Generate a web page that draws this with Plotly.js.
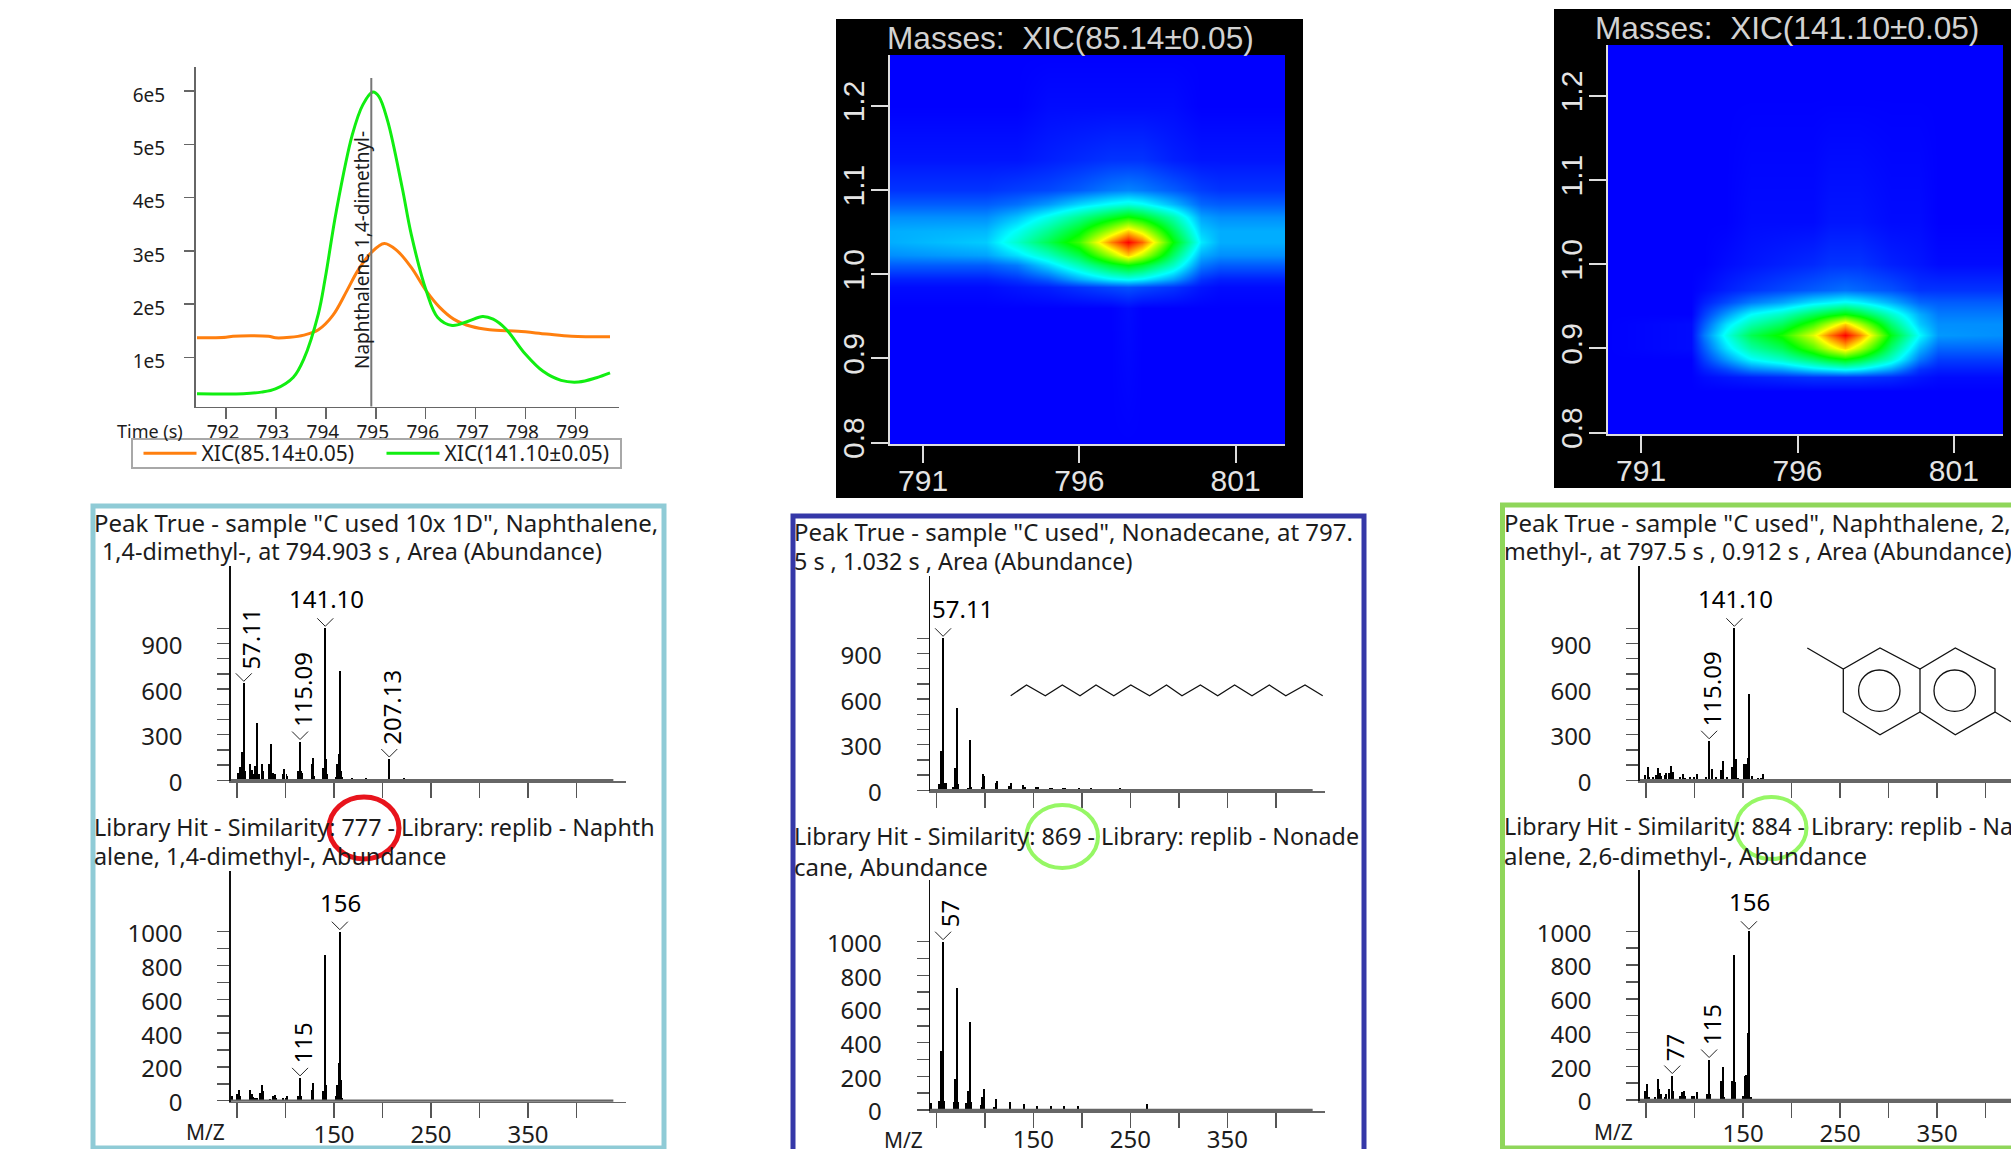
<!DOCTYPE html>
<html>
<head>
<meta charset="utf-8">
<script src="https://cdn.plot.ly/plotly-3.0.1.min.js"></script>
<style>html,body{margin:0;padding:0;background:#fff}#chart{width:2011px;height:1149px}</style>
</head>
<body>
<div id="chart"></div>
<script>
// ---------- Chromatogram data ----------
const orangeTime = [791.42,792.0,792.14,792.85,792.99,793.28,793.56,793.85,794.14,794.42,794.64,794.91,795.17,795.42,795.71,796.01,796.28,796.56,796.92,797.28,797.85,798.42,798.92,799.69];
const orangeAbund = [1.37e5,1.38e5,1.40e5,1.40e5,1.37e5,1.38e5,1.42e5,1.52e5,1.79e5,2.25e5,2.63e5,2.97e5,3.14e5,3.01e5,2.69e5,2.25e5,1.94e5,1.72e5,1.58e5,1.52e5,1.49e5,1.44e5,1.40e5,1.39e5];
const greenTime = [791.42,792.35,792.71,792.99,793.35,793.56,793.85,793.99,794.21,794.53,794.74,794.94,795.06,795.24,795.53,795.71,796.01,796.24,796.53,796.85,797.14,797.35,797.60,797.99,798.35,798.71,799.06,799.42,799.69];
const greenAbund = [0.32e5,0.32e5,0.35e5,0.41e5,0.63e5,0.975e5,1.82e5,2.50e5,3.75e5,5.18e5,5.74e5,5.98e5,5.90e5,5.43e5,4.18e5,3.31e5,2.25e5,1.75e5,1.60e5,1.68e5,1.77e5,1.72e5,1.54e5,1.07e5,0.74e5,0.57e5,0.54e5,0.62e5,0.71e5];
const peakTime = 794.91;
const chromTicksX = [792,793,794,795,796,797,798,799];
const chromTicksY = [1e5,2e5,3e5,4e5,5e5,6e5];
const chromTickText = ['1e5','2e5','3e5','4e5','5e5','6e5'];

// ---------- Heat map data (read by eye as a coarse grid) ----------
const heat85X = [789.9,793,794,795,796,797,797.54,798,799,799.9,800.5,802.6];
const heat85Y = [0.798,0.96,0.985,0.995,1.011,1.023,1.0385,1.052,1.068,1.084,1.10,1.136,1.2,1.261];
const heat85Z = [
 [0,0,0,0,0,0,0,0,0,0,0,0],
 [0,0,0,0,0,0,.01,0,0,0,0,0],
 [.01,.01,.02,.03,.05,.07,.08,.07,.05,.02,.01,.01],
 [.03,.03,.05,.09,.17,.24,.26,.24,.16,.05,.03,.03],
 [.09,.09,.12,.21,.32,.45,.5,.46,.31,.12,.09,.09],
 [.14,.16,.22,.31,.43,.66,.8,.69,.4,.17,.14,.14],
 [.17,.2,.3,.42,.56,.87,1,.9,.5,.23,.17,.17],
 [.17,.18,.26,.36,.48,.68,.8,.71,.43,.2,.17,.17],
 [.14,.14,.19,.27,.36,.46,.51,.47,.33,.16,.14,.14],
 [.09,.09,.11,.15,.21,.26,.28,.26,.18,.1,.09,.09],
 [.05,.05,.06,.07,.09,.12,.13,.12,.09,.06,.05,.05],
 [.02,.02,.02,.03,.04,.05,.05,.05,.03,.02,.02,.02],
 [0,0,0,.01,.01,.01,.01,.01,.01,0,0,0],
 [0,0,0,0,0,0,0,0,0,0,0,0]];
const heat141X = [789.9,792.6,793,793.7,794.5,795.5,796.5,797,797.52,798,799,799.9,800.5,802.6];
const heat141Y = [0.798,0.85,0.866,0.876,0.888,0.9,0.9155,0.929,0.941,0.955,0.97,1.0,1.05,1.2,1.261];
const heat141Z = [
 [0,0,0,0,0,0,0,0,0,0,0,0,0,0],
 [0,0,0,0,0,0,0,0,0,0,0,0,0,0],
 [0,0,.01,.02,.03,.04,.05,.05,.05,.05,.04,.02,.01,.01],
 [0,0,.03,.07,.13,.16,.22,.24,.26,.24,.16,.05,.03,.03],
 [0,0,.06,.15,.25,.31,.4,.46,.5,.45,.3,.12,.06,.06],
 [0,.01,.09,.22,.34,.42,.58,.7,.8,.68,.39,.18,.1,.1],
 [0,.01,.12,.27,.42,.52,.72,.88,1,.87,.48,.25,.15,.14],
 [0,.01,.09,.22,.33,.41,.56,.68,.8,.67,.39,.2,.14,.14],
 [0,0,.06,.15,.25,.31,.41,.46,.5,.45,.3,.17,.12,.12],
 [0,0,.03,.07,.12,.16,.22,.24,.26,.24,.17,.1,.09,.09],
 [0,0,.01,.03,.05,.07,.09,.1,.11,.1,.08,.05,.05,.05],
 [0,0,0,.01,.02,.03,.04,.05,.05,.05,.03,.02,.01,.01],
 [0,0,0,0,.01,.01,.01,.02,.02,.02,.01,.01,0,0],
 [0,0,0,0,0,0,0,0,0,0,0,0,0,0],
 [0,0,0,0,0,0,0,0,0,0,0,0,0,0]];
const heatTicksX = [791,796,801];
const heatTicksY = [0.8,0.9,1.0,1.1,1.2];
const heatTickTextY = ['0.8','0.9','1.0','1.1','1.2'];

// ---------- Mass spectra data ----------
const aTopMz = [51,53,55,57,58,63,65,67,69,71,73,76,77,83,85,87,89,97,98,101,102,113,115,116,117,127,128,129,139,141,142,143,152,153,154,155,156,157,158,169,183,207,222];
const aTopInt = [50,90,185,638,60,110,70,40,95,375,40,110,60,110,237,50,40,40,72,40,30,60,255,60,50,105,150,30,80,1000,138,40,20,105,105,175,720,60,20,15,12,140,15];
const aLibMz = [45,50,52,53,63,65,67,69,71,74,76,77,84,87,89,90,97,100,102,113,115,116,127,128,139,141,142,152,153,154,155,156,157,158];
const aLibInt = [25,40,65,25,65,40,20,15,15,45,95,55,10,25,35,15,15,15,25,25,135,25,65,105,55,865,95,25,95,95,225,1000,125,15];
const bTopMz = [53,55,57,58,60,67,69,71,72,83,85,86,97,98,99,111,113,125,127,139,141,153,155,167,169,181,183,197,209,239];
const bTopInt = [40,260,1000,45,45,20,150,540,40,15,330,25,25,105,95,50,60,30,45,35,20,20,25,15,15,15,15,12,15,12];
const bLibMz = [45,53,55,57,58,68,69,71,72,81,83,85,86,96,97,99,109,111,112,126,140,154,168,182,196,267];
const bLibInt = [40,55,350,1000,55,45,185,725,45,40,115,525,45,30,75,125,20,50,65,50,35,25,25,25,25,35];
const cTopMz = [49,52,53,57,60,62,64,65,69,71,74,76,78,85,88,90,95,99,102,112,115,118,122,127,129,133,139,141,143,145,151,153,155,156,159,165,168,171];
const cTopInt = [35,90,20,25,35,80,50,30,35,50,50,95,55,20,40,15,20,20,40,25,260,75,20,70,130,20,85,1000,140,15,105,105,150,565,30,15,15,40];
const cLibMz = [49,51,53,59,62,63,65,69,71,74,77,78,85,87,89,90,97,99,102,113,115,116,127,129,130,139,141,142,150,152,153,155,156,158];
const cLibInt = [55,95,20,20,125,65,35,20,35,65,145,55,25,50,55,25,25,25,50,35,240,35,115,195,15,115,860,105,25,145,150,395,1000,20];
const spectrumTicksX = [50,100,150,200,250,300,350,400];
const spectrumLabelsX = ['','','150','','250','','350',''];
const topTicksY = [0,100,200,300,400,500,600,700,800,900,1000];
const topTickText = ['0','','','300','','','600','','','900',''];
const libTicksY = [0,100,200,300,400,500,600,700,800,900,1000];
const libTickText = ['0','','200','','400','','600','','800','','1000'];

// ---------- Texts ----------
const aTitle = ['Peak True - sample "C used 10x 1D", Naphthalene,','1,4-dimethyl-, at 794.903 s , Area (Abundance)'];
const aLib = ['Library Hit - Similarity: 777 - Library: replib - Naphth','alene, 1,4-dimethyl-, Abundance'];
const bTitle = ['Peak True - sample "C used", Nonadecane, at 797.','5 s , 1.032 s , Area (Abundance)'];
const bLib = ['Library Hit - Similarity: 869 - Library: replib - Nonade','cane, Abundance'];
const cTitle = ['Peak True - sample "C used", Naphthalene, 2,','methyl-, at 797.5 s , 0.912 s , Area (Abundance)'];
const cLib = ['Library Hit - Similarity: 884 - Library: replib - Na','alene, 2,6-dimethyl-, Abundance'];

// ---------- Layout helpers ----------
const W = 2011, H = 1149;
const X = p => p / W, Y = p => 1 - p / H;
const FONT = 'Noto Sans', ARIAL = 'Liberation Sans';
const INK = '#1c1c1c';
const traces = [], shapes = [], annotations = [];
const layout = {
  width: W, height: H, margin: {l:0,r:0,t:0,b:0},
  paper_bgcolor: '#fff', plot_bgcolor: 'rgba(0,0,0,0)',
  showlegend: true, bargap: 0, barmode: 'overlay',
  font: {family: FONT, color: INK},
  legend: {orientation:'h', x:X(138.5), y:Y(453.5), xanchor:'left', yanchor:'middle',
    borderwidth:0, bgcolor:'rgba(0,0,0,0)', itemwidth:53, font:{size:21,family:FONT,color:INK},
    entrywidth:175, entrywidthmode:'pixels', traceorder:'normal'}
};
function ax(n){ return n === 1 ? '' : String(n); }
function text(s, xp, yp, size, extra){
  annotations.push(Object.assign({text:s, xref:'paper', yref:'paper', x:X(xp), y:Y(yp), xanchor:'left', yanchor:'middle',
    showarrow:false, font:{size:size, family:FONT, color:INK}, borderpad:0}, extra||{}));
}
function pxLine(pts, color, width){
  const d = pts.map((p,i)=>(i?'L':'M')+X(p[0])+','+Y(p[1])).join(' ');
  shapes.push({type:'path', xref:'paper', yref:'paper', path:d, line:{color:color,width:width}, layer:'above'});
}
function pxBox(x0,y0,x1,y1,line,fill,lay){
  shapes.push({type:'rect', xref:'paper', yref:'paper', x0:X(x0), x1:X(x1), y0:Y(y1), y1:Y(y0),
    line:line, fillcolor:fill||'rgba(0,0,0,0)', layer:lay||'above'});
}
function pxEllipse(x0,y0,x1,y1,color,width){
  shapes.push({type:'circle', xref:'paper', yref:'paper', x0:X(x0), x1:X(x1), y0:Y(y1), y1:Y(y0),
    line:{color:color,width:width}, layer:'above'});
}

// ---------- Chromatogram (axes 1) ----------
layout.xaxis = {domain:[X(196),X(619)], range:[791.4,799.87], anchor:'y', tickmode:'array', tickvals:chromTicksX,
  ticks:'outside', ticklen:11, tickcolor:'#666', tickwidth:1.5, showline:true, linecolor:'#666', linewidth:1.5, showgrid:false, zeroline:false,
  tickfont:{size:19,color:INK,family:FONT}, ticklabelstandoff:-3, ticklabelshift:-3};
layout.yaxis = {domain:[Y(406.5),Y(66.5)], range:[8000,6.46e5], anchor:'x', tickmode:'array', tickvals:chromTicksY, ticktext:chromTickText,
  ticks:'outside', ticklen:10, tickcolor:'#666', tickwidth:1.5, showline:true, linecolor:'#666', linewidth:2, showgrid:false, zeroline:false,
  tickfont:{size:19,color:INK,family:FONT}, ticklabelstandoff:15, ticklabelshift:4};
traces.push({type:'scatter',mode:'lines',x:orangeTime,y:orangeAbund,name:'XIC(85.14±0.05)',xaxis:'x',yaxis:'y',line:{color:'#ff7f0e',width:3,shape:'spline'},hoverinfo:'skip'});
traces.push({type:'scatter',mode:'lines',x:greenTime,y:greenAbund,name:'XIC(141.10±0.05)',xaxis:'x',yaxis:'y',line:{color:'#11ee11',width:3,shape:'spline'},hoverinfo:'skip'});
shapes.push({type:'line',xref:'x',yref:'paper',x0:peakTime,x1:peakTime,y0:Y(406.5),y1:Y(78),line:{color:'#777',width:2},layer:'above'});
annotations.push({text:'Naphthalene 1,4-dimethyl-',xref:'paper',yref:'paper',x:X(362),y:Y(250),xanchor:'center',yanchor:'middle',textangle:-90,showarrow:false,font:{size:19,family:FONT,color:INK}});
text('Time (s)', 116, 431, 18);
pxBox(132,439,621,468,{color:'#a8a8a8',width:2});

// ---------- Heat maps (axes 2, 3) ----------
const RAINBOW = [[0,'#0000ff'],[0.25,'#00ffff'],[0.5,'#00ff00'],[0.75,'#ffff00'],[1,'#ff0000']];
function heat(n, hx, hy, hz, g, title){
  const s = ax(n);
  pxBox(g.bx0,g.by0,g.bx1,g.by1,{width:0},'#000','below');
  layout['xaxis'+s] = {domain:[X(g.x0),X(g.x1)], range:[789.94,802.58], anchor:'y'+s, tickmode:'array', tickvals:heatTicksX,
    ticks:'outside', ticklen:17, tickcolor:'#ddd', tickwidth:2, showline:true, linecolor:'#ddd', linewidth:2, showgrid:false, zeroline:false,
    tickfont:{size:30,color:'#e4e4e4',family:ARIAL}, ticklabelstandoff:-8};
  layout['yaxis'+s] = {domain:[Y(g.y1),Y(g.y0)], range:[0.798,1.2606], anchor:'x'+s, tickmode:'array', tickvals:heatTicksY, ticktext:heatTickTextY,
    ticks:'outside', ticklen:17, tickcolor:'#ddd', tickwidth:2, showline:true, linecolor:'#ddd', linewidth:2, showgrid:false, zeroline:false,
    tickangle:-90, tickfont:{size:30,color:'#e4e4e4',family:ARIAL}, ticklabelstandoff:-5};
  traces.push({type:'heatmap',x:hx,y:hy,z:hz,xaxis:'x'+s,yaxis:'y'+s,colorscale:RAINBOW,zmin:0,zmax:1,zsmooth:'best',showscale:false,showlegend:false,hoverinfo:'skip'});
  text(title, g.tx, g.ty, 31.6, {font:{size:31.6,family:ARIAL,color:'#d2d2d2'}});
}
heat(2, heat85X, heat85Y, heat85Z, {bx0:836,by0:19,bx1:1303,by1:498,x0:890,x1:1285,y0:55,y1:444.3,tx:886,ty:38}, 'Masses:  XIC(85.14±0.05)');
heat(3, heat141X, heat141Y, heat141Z, {bx0:1554,by0:9,bx1:2011,by1:488,x0:1608,x1:2003.3,y0:45,y1:434.3,tx:1594,ty:28}, 'Masses:  XIC(141.10±0.05)');

// ---------- Spectra (axes 4..9) ----------
const PXMZ = 0.97;
function spectrum(n, mz, intensity, g, ticksY, tickText, labels, showLabels, labelOffset){
  const s = ax(n);
  const scale = (g.zero - g.k)/1000;
  const left = 43.4, right = Math.min(left + (W - g.x0)/PXMZ, 450.8);
  const x1 = g.x0 + (right-left)*PXMZ;
  layout['xaxis'+s] = {domain:[X(g.x0),X(x1)], range:[left,right], anchor:'y'+s, tickmode:'array', tickvals:spectrumTicksX,
    ticktext: showLabels ? spectrumLabelsX : spectrumTicksX.map(()=>''),
    ticks:'outside', ticklen:15, tickcolor:'#555', tickwidth:1.5, showline:true, linecolor:'#666', linewidth:1.5, showgrid:false, zeroline:false,
    tickfont:{size:24,color:INK,family:FONT}, ticklabelstandoff:labelOffset||-4};
  layout['yaxis'+s] = {domain:[Y(g.bottom),Y(g.top)], range:[(g.zero-g.bottom)/scale,(g.zero-g.top)/scale], anchor:'x'+s, tickmode:'array', tickvals:ticksY, ticktext:tickText,
    ticks:'outside', ticklen:12, tickcolor:'#555', tickwidth:1.5, showline:true, linecolor:'#111', linewidth:1.3, showgrid:false, zeroline:false,
    tickfont:{size:24,color:INK,family:FONT}, ticklabelstandoff:30, ticklabelshift:2};
  traces.push({type:'bar',x:mz,y:intensity,width:2,marker:{color:'#000',line:{width:0}},xaxis:'x'+s,yaxis:'y'+s,showlegend:false,hoverinfo:'skip'});
  shapes.push({type:'line',xref:'x'+s,yref:'y'+s,x0:left,x1:Math.min(438,right),y0:0,y1:0,line:{color:'#666',width:2.5},layer:'above'});
  labels.forEach(l => {
    const idx = mz.indexOf(l.mz), h = intensity[idx];
    shapes.push({type:'path',xref:'x'+s,yref:'y'+s,xsizemode:'pixel',ysizemode:'pixel',xanchor:l.mz,yanchor:h,path:'M-8,10 L0,2 L8,10',line:{color:'#222',width:1}});
    annotations.push(l.rot
      ? {text:l.t,xref:'x'+s,yref:'y'+s,x:l.mz,y:h,xanchor:'center',yanchor:'bottom',yshift:13,xshift:l.dx||2,textangle:-90,showarrow:false,font:{size:24,family:FONT,color:'#000'},borderpad:0}
      : {text:l.t,xref:'x'+s,yref:'y'+s,x:l.mz,y:h,xanchor:'center',yanchor:'bottom',yshift:12,xshift:l.dx||1,showarrow:false,font:{size:24,family:FONT,color:'#000'},borderpad:0});
  });
}
const topGeo = (x0,d)=>({x0:x0,zero:780.3+d,k:628.3+d,bottom:781+d,top:566+d});
const libGeo = (x0,zero,k,bottom,top)=>({x0,zero,k,bottom,top});
spectrum(4,aTopMz,aTopInt,topGeo(230.6,0),topTicksY,topTickText,[{mz:57,t:'57.11',rot:1,dx:7},{mz:115,t:'115.09',rot:1},{mz:141,t:'141.10'},{mz:207,t:'207.13',rot:1}],false);
spectrum(5,aLibMz,aLibInt,libGeo(230.6,1100.7,931.7,1101.7,871),libTicksY,libTickText,[{mz:115,t:'115',rot:1},{mz:156,t:'156'}],true);
spectrum(6,bTopMz,bTopInt,topGeo(929.9,10),topTicksY,topTickText,[{mz:57,t:'57.11',dx:19}],false);
spectrum(7,bLibMz,bLibInt,libGeo(929.9,1110,941.7,1111,880),libTicksY,libTickText,[{mz:57,t:'57',rot:1,dx:6}],true,-8);
spectrum(8,cTopMz,cTopInt,topGeo(1639.7,0),topTicksY,topTickText,[{mz:115,t:'115.09',rot:1},{mz:141,t:'141.10'}],false);
spectrum(9,cLibMz,cLibInt,libGeo(1639.7,1100,931.3,1101,870),libTicksY,libTickText,[{mz:77,t:'77',rot:1},{mz:115,t:'115',rot:1},{mz:156,t:'156'}],true);

// Panel frames
pxBox(93,506,664,1148,{color:'#8fcbd6',width:5});
pxBox(793,516,1364,1152,{color:'#3538a8',width:5});
pxBox(1502.5,505,2030,1148,{color:'#8fd65a',width:5});

// Panel texts
const TS = 24, TN = 23.3;
text(aTitle[0],93,522,TS); text(aTitle[1],101,551,TN);
text(aLib[0],93,827,TN); text(aLib[1],93,856,TN);
text(bTitle[0],793,532,TS); text(bTitle[1],793,561,TN);
text(bLib[0],793,836,TN); text(bLib[1],793,866,TS);
text(cTitle[0],1503,522,TS); text(cTitle[1],1503,551,TN);
text(cLib[0],1503,826,TN); text(cLib[1],1503,855,TS);
text('M/Z',185,1132,21); text('M/Z',883,1140,21); text('M/Z',1593,1132,21);

// Similarity circles
pxEllipse(329,797,399,859,'#e8141c',5);
pxEllipse(1026.5,805,1098,868,'#96f765',4);
pxEllipse(1736,797,1806.5,859,'#96f765',4);

// Structures
const zx = [1010.7,1026.5,1045.3,1062.3,1080,1096,1113.8,1130.8,1149.6,1166.5,1182,1200.4,1217.7,1234.6,1252,1269.3,1285.8,1305,1322.7];
pxLine(zx.map((x,i)=>[x,i%2?685:695.7]),'#111',1.3);
pxLine([[1807.3,648],[1843.3,669],[1880,648],[1920,669],[1955.3,648],[1995,669],[1995,712],[1955.3,734.7],[1920,712],[1880,734.7],[1843.3,712],[1843.3,669]],'#111',1.3);
pxLine([[1920,669],[1920,712]],'#111',1.3);
pxLine([[1995,712],[2011,721.7]],'#111',1.3);
pxEllipse(1858.6,670,1900,711.4,'#111',1.3);
pxEllipse(1934,670,1975.4,711.4,'#111',1.3);

layout.shapes = shapes;
layout.annotations = annotations;
Plotly.newPlot('chart', traces, layout, {staticPlot:true, displayModeBar:false, responsive:false});
</script>
</body>
</html>
